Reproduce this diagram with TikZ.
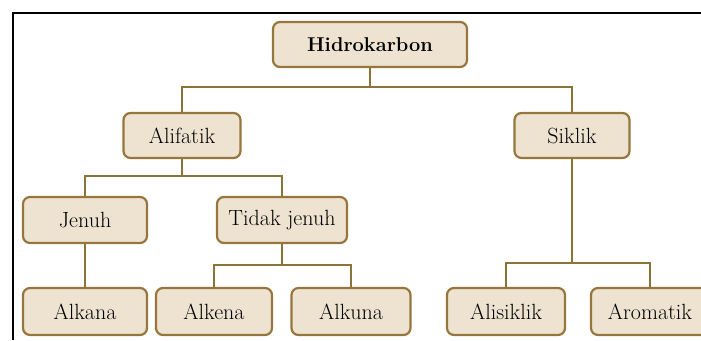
\documentclass[tikz,border=0pt]{standalone}
\usepackage{fontspec}
\definecolor{boxfill}{RGB}{238,227,209}
\definecolor{boxline}{RGB}{150,118,60}
\definecolor{conn}{RGB}{140,115,55}
\begin{document}
\begin{tikzpicture}[x=1pt,y=-1pt,
  box/.style={draw=boxline, fill=boxfill, line width=2.2pt, rounded corners=7pt,
    inner sep=0pt, align=center, font=\fontsize{22}{24}\selectfont, text=black},
  link/.style={draw=conn, line width=2pt}]
\useasboundingbox (0,0) rectangle (701,340);
\clip (0,0) rectangle (701,340);
% frame
\draw[black, line width=2.5pt] (13,340) -- (13,13) -- (701,13);
% nodes
\node[box, minimum width=194pt, minimum height=45pt, font=\fontsize{20}{22}\selectfont\bfseries] (hid) at (370,44.5) {Hidrokarbon};
\node[box, minimum width=117pt, minimum height=45pt] (ali) at (182,135.5) {Alifatik};
\node[box, minimum width=115pt, minimum height=45pt] (sik) at (572,135.5) {Siklik};
\node[box, minimum width=124pt, minimum height=46pt] (jen) at (85,220) {Jenuh};
\node[box, minimum width=130pt, minimum height=46pt] (tj) at (282,220) {Tidak jenuh};
\node[box, minimum width=124pt, minimum height=47pt] (alkana) at (85,311.5) {Alkana};
\node[box, minimum width=116pt, minimum height=47pt] (alkena) at (214,311.5) {Alkena};
\node[box, minimum width=119pt, minimum height=47pt] (alkuna) at (351,311.5) {Alkuna};
\node[box, minimum width=118pt, minimum height=47pt] (alis) at (506,311.5) {Alisiklik};
\node[box, minimum width=118pt, minimum height=47pt] (arom) at (650,311.5) {Aromatik};
% junctions
\coordinate (j1) at (370,87);
\coordinate (j2) at (182,176);
\coordinate (j3) at (282,265);
\coordinate (j4) at (572,263);
% connectors
\draw[link] (hid.south) -- (j1);
\draw[link] (ali.north) |- (j1) -| (sik.north);
\draw[link] (ali.south) -- (j2);
\draw[link] (jen.north) |- (j2) -| (tj.north);
\draw[link] (jen.south) -- (alkana.north);
\draw[link] (tj.south) -- (j3);
\draw[link] (alkena.north) |- (j3) -| (alkuna.north);
\draw[link] (sik.south) -- (j4);
\draw[link] (alis.north) |- (j4) -| (arom.north);
\end{tikzpicture}
\end{document}
